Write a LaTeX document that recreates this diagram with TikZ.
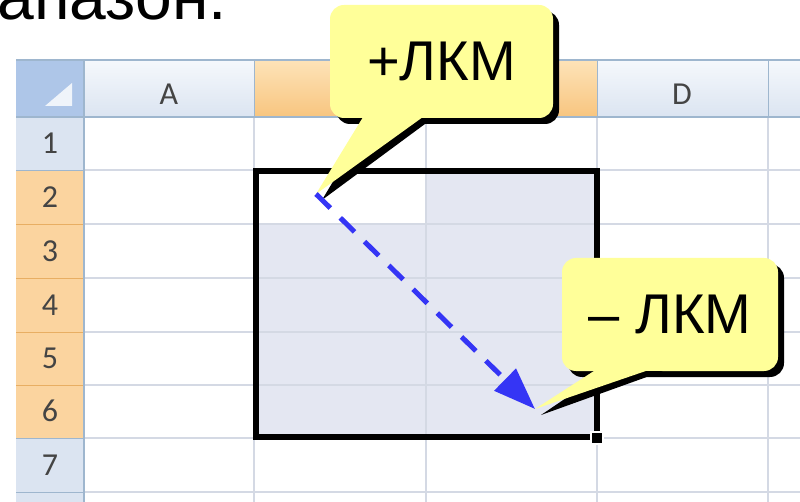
\documentclass[tikz,border=0pt]{standalone}
\usepackage{fontspec}
\setmainfont{Liberation Sans}
\newfontfamily\calibri{Carlito}
\usetikzlibrary{arrows.meta,shadows,calc}
\definecolor{gridline}{HTML}{D4D9E4}
\definecolor{hdrline}{HTML}{9EB6CE}
\definecolor{hdrtop}{HTML}{F5F8FC}
\definecolor{hdrblue}{HTML}{DBE4F1}
\definecolor{orangetop}{HTML}{FDE3B8}
\definecolor{hdrorange}{HTML}{F8C57F}
\definecolor{roworange}{HTML}{FBD49F}
\definecolor{orangeline}{HTML}{E8AE63}
\definecolor{cornerblue}{HTML}{AEC6E8}
\definecolor{selfill}{HTML}{E4E7F2}
\definecolor{tipyellow}{HTML}{FFFF99}
\definecolor{dragblue}{HTML}{3535F5}
\definecolor{labelgray}{HTML}{444444}
\tikzset{
  hdrtext/.style={font=\calibri\fontsize{32}{32}\selectfont, text=labelgray},
  callbox/.style={fill=tipyellow, rounded corners=14pt, minimum height=113pt, inner sep=0pt,
      font=\fontsize{56}{56}\selectfont,
      drop shadow={shadow xshift=6pt, shadow yshift=-6pt, fill=black, opacity=1}},
}
\begin{document}
\begin{tikzpicture}[x=1pt,y=-1pt]
\useasboundingbox (0,0) rectangle (800,502);
\clip (0,0) rectangle (800,502);

\node[anchor=base east, inner sep=0pt, font=\fontsize{66}{66}\selectfont] (heading) at (227,20) {апазон.};

% headers
\shade[top color=hdrtop, bottom color=hdrblue] (16,60) rectangle (800,117);
\shade[top color=orangetop, bottom color=hdrorange] (254,60) rectangle (597,117);
\fill[cornerblue] (16,60) rectangle (84,117);
\fill[white!80!cornerblue] (72,83) -- (72,106) -- (45,106) -- cycle;
\fill[hdrblue] (16,117) rectangle (84,502);
\fill[roworange] (16,170) rectangle (84,438);

% selected range
\fill[selfill] (255,171) rectangle (597,437);
\fill[white] (255,171) rectangle (426,224);

\foreach \x in {254,426,597,768}
{
    \draw[gridline, line width=1.5] (\x,117) -- (\x,502);
    \draw[hdrline] (\x,60) -- (\x,117);
}
\foreach \y in {170,224,278,332,385,438,492}
{
    \draw[gridline, line width=1.5] (84,\y) -- (800,\y);
}
\foreach \y in {224,278,332,385}
{
    \draw[orangeline] (16,\y) -- (84,\y);
}
\foreach \y in {170,438,492}
{
    \draw[hdrline] (16,\y) -- (84,\y);
}
\draw[hdrline, line width=2] (16,60) -- (800,60);
\draw[hdrline, line width=1.5] (16,117) -- (800,117);
\draw[hdrline, line width=1.5] (84,60) -- (84,502);

\node[hdrtext] (colA) at (169,94) {A};
\node[hdrtext] (colD) at (682,94) {D};
\foreach \y/\rowtext in {143/1,197/2,251/3,305/4,358/5,411/6,465/7}
{
    \node[hdrtext] (r\rowtext) at (50,\y) {\rowtext};
}

\draw[line width=6.5] (256,171) rectangle (597,437);
\filldraw[fill=black, draw=white, line width=1.5] (591,432) rectangle (603,444);

\coordinate (press) at (316,194);
\coordinate (release) at (535,409);

% callouts
\node[callbox, minimum width=223pt] (plus) at (441.5,61.5) {+ЛКМ};
\fill[black] ($(plus.south west)+(41,0)$) -- ($(press)+(6,6)$) -- ($(plus.south west)+(103,0)$) -- cycle;
\fill[tipyellow] ($(plus.south west)+(35,-4)$) -- (press) -- ($(plus.south west)+(97,-4)$) -- cycle;

\node[callbox, minimum width=216pt] (minus) at (670,314.5) {– ЛКМ};
\fill[black] ($(minus.south west)+(44,0)$) -- ($(release)+(6,6)$) -- ($(minus.south west)+(101,0)$) -- cycle;
\fill[tipyellow] ($(minus.south west)+(38,-4)$) -- (release) -- ($(minus.south west)+(95,-4)$) -- cycle;

\draw[dragblue, line width=5, dash pattern=on 20pt off 14pt, -{Triangle[length=42pt,width=30pt]}] (press) -- (release);
\end{tikzpicture}
\end{document}
